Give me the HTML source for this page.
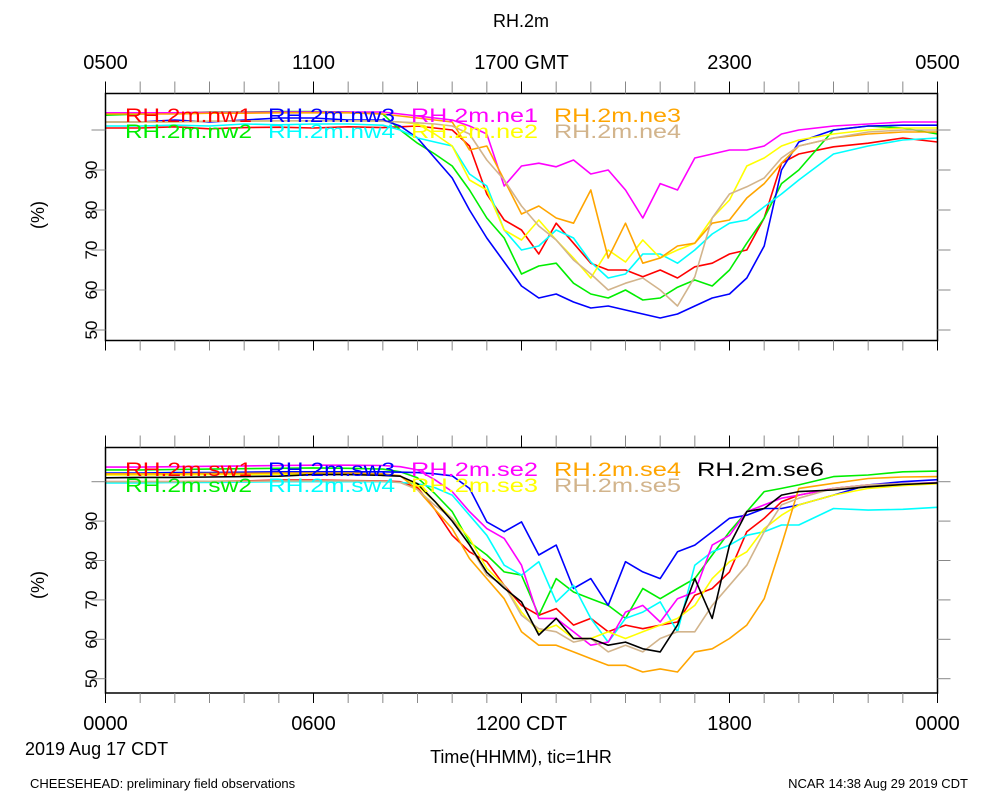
<!DOCTYPE html>
<html><head><meta charset="utf-8">
<style>
html,body{margin:0;padding:0;background:#fff;}
svg{display:block;font-family:"Liberation Sans",Arial,sans-serif;}
</style></head>
<body>
<svg id="chart" width="1000" height="800" viewBox="0 0 1000 800" xmlns="http://www.w3.org/2000/svg">
<rect x="0" y="0" width="1000" height="800" fill="#fff"/>
<text x="521" y="27" font-size="18" text-anchor="middle">RH.2m</text>
<text x="44" y="215" font-size="18" text-anchor="middle" transform="rotate(-90 44 215)">(%)</text>
<text x="44" y="585" font-size="18" text-anchor="middle" transform="rotate(-90 44 585)">(%)</text>
<text x="25" y="755" font-size="18">2019 Aug 17 CDT</text>
<text x="521" y="763" font-size="18" text-anchor="middle">Time(HHMM), tic=1HR</text>
<text x="30" y="788" font-size="13">CHEESEHEAD: preliminary field observations</text>
<text x="968" y="788" font-size="13" text-anchor="end">NCAR 14:38 Aug 29 2019 CDT</text>
<g id="layer"></g>
</svg>
<script>
const times=[0,1,2,3,4,5,6,7,8,8.5,9,9.5,10,10.5,11,11.5,12,12.5,13,13.5,14,14.5,15,15.5,16,16.5,17,17.5,18,18.5,19,19.5,20,21,22,23,24];
const topTickLabels=["0500","1100","1700 GMT","2300","0500"];
const bottomTickLabels=["0000","0600","1200 CDT","1800","0000"];
const yTickValues=[50,60,70,80,90];
const topNames=["RH.2m.nw1","RH.2m.nw2","RH.2m.nw3","RH.2m.nw4","RH.2m.ne1","RH.2m.ne2","RH.2m.ne3","RH.2m.ne4"];
const topColors=["#ff0000","#00ee00","#0000ff","#00ffff","#ff00ff","#ffff00","#ffa500","#d2b48c"];
const nw1=[100.5,100.5,100.8,100.3,100.6,100.7,100.5,100.8,100.6,100.8,101,100.5,100,96,84,77.5,75,69,76.7,71.7,66.7,65,65,63.3,65,63,65.8,66.7,69,70,78,91.7,94,95.8,96.7,98,97];
const nw2=[103.7,104,104.2,104.5,104.5,104.6,104.6,104.5,104,100,96.7,94,91,85,78,73,64,66,66.7,61.7,59,58,60,57.5,58,60.7,62.5,61,65,71.7,78,86.6,90,100,101,100.5,99];
const nw3=[102,102,102.5,102,102.5,103,103,102.5,102.5,101,98,93,88,80,73,67,61,58,59,57,55.5,56,55,54,53,54,56,58,59,63,71,90,97,100,101,101.2,101.2];
const nw4=[101,101,101.2,101,101.5,101.3,101.5,101.5,101.2,100,98,97,96,89,86,75,70,71,75,73,67,63,64,69,69,66.7,70,74,76.7,77.5,80.8,84,87.5,94,96,97.5,98];
const ne1=[104.3,104.3,104.3,104.4,104.4,104.5,104.5,104.5,104.5,104,103.5,103,102.5,101,99,86,91,91.7,90.8,92.5,89,90,85,78,86.6,85,93,94,95,95,96,99,100,101,101.5,102,102];
const ne2=[102,102,102,102.2,102.2,102.3,102.3,102.3,102.2,102,101.5,99,96,87.5,85,75,72.5,77.5,72.5,68,63,70,67,72.5,68,70,71.7,78,82.5,91,93,96,97.5,99,100,100.5,100.5];
const ne3=[104,104,104,104.2,104.2,104.3,104.3,104.3,104,103.5,103,102.5,102,95,96,87.5,79,81,78,76.7,85,68,76.7,66.7,68,71,71.7,76.7,77.5,83,86.6,91.7,96,98,99,99.5,99.5];
const ne4=[102,102,102,102.2,102.2,102.3,102.3,102.3,102.2,102,101.8,101.5,101,99,92.5,87.5,81,76,72.5,67.5,64,60,61.7,63,60,56,63.3,78,84,85.8,88,93,96,98,99.5,100,100];
const topSeries=[nw1,nw2,nw3,nw4,ne1,ne2,ne3,ne4];

const botNames=["RH.2m.sw1","RH.2m.sw2","RH.2m.sw3","RH.2m.sw4","RH.2m.se2","RH.2m.se3","RH.2m.se4","RH.2m.se5","RH.2m.se6"];
const botColors=["#ff0000","#00ee00","#0000ff","#00ffff","#ff00ff","#ffff00","#ffa500","#d2b48c","#000000"];
const sw1=[100,100,100,100.1,100.2,100.4,100.4,100.3,100.2,100,98.5,93,86.4,82.2,79.7,73.7,68.6,66.1,67.8,63.6,65.3,61.9,63.6,62.7,63.6,64.4,71.2,72.9,77.1,87.3,90.7,94.9,96.6,98.3,99.2,99.3,99.5];
const sw2=[103,103,103.1,103.2,103.3,103.4,103.5,103.4,103.2,102.5,101,97,92.4,84.7,81.4,77.1,76.3,66.1,75.4,72,70.3,68.6,65.3,72.9,70.3,72.9,75.4,81.4,87.3,92.4,97.5,98.3,99.2,101.3,101.7,102.5,102.7];
const sw3=[102.2,102.2,102.3,102.3,102.4,102.5,102.5,102.5,102.5,102.4,102.3,102,101.5,98.3,89.8,87.3,89.8,81.4,83.9,72.9,75.4,68.6,79.7,77.1,75.4,82.2,83.9,87.3,90.7,91.5,93.2,93.2,94.1,96.6,99.2,100,100.5];
const sw4=[99.7,99.7,99.8,99.8,99.9,100,100,100,100,99.8,99.5,98.5,96.6,91.5,86.4,78.8,76.3,79.7,69.5,73.7,65.3,59.3,65.3,66.9,69.5,61.9,78.8,82.2,83.9,86.4,87.3,89,89,93.2,92.8,93,93.5];
const se2=[103.7,103.7,103.8,103.9,104,104.1,104.2,104.2,104.1,103.8,103,100.5,97.5,92.4,88.1,85.6,78.8,65.3,65.3,61.9,58.5,59.3,66.9,68.6,64.4,70.3,72,83.9,86.4,92.4,94.1,95.8,96.6,98.3,99.2,99.5,99.8];
const se3=[101.7,101.7,101.7,101.8,101.8,101.9,101.9,101.9,101.8,101.5,99,95,90.7,85.6,78,73.7,66.9,61.9,63.6,60.2,60.2,61.9,60.2,61.9,63.6,65.3,68.6,75.4,79.7,82.2,88.1,91.5,94.1,96.6,98.3,99,99.5];
const se4=[102,102,102,102.1,102.1,102.2,102.2,102.2,102,101.5,98,93,88.1,80.5,75.4,70.3,61.9,58.5,58.5,56.8,55.1,53.4,53.4,51.7,52.5,51.7,56.8,57.6,60.2,63.6,70.3,83.9,98.3,99.6,100.8,101.2,101.3];
const se5=[100,100,100,100.1,100.1,100.2,100.2,100.2,100.1,99.8,98,94,90.7,83.9,76.3,73.7,66.1,62.7,61.9,59.3,60.2,56.8,58.5,56.8,60.2,61.9,61.9,68.6,73.7,78.8,87.3,94.1,95.8,98.3,99.2,99.5,99.7];
const se6=[101,101.1,101.1,101.2,101.3,101.4,101.8,101.8,101.6,101.4,99.5,95,90,84,77,73,69.5,61.1,65.3,60.2,60.2,58.5,59.3,57.6,56.8,63.6,75.4,65.3,83.9,92.4,93.2,96.6,97.5,97.9,98.7,99.3,99.7];
const botSeries=[sw1,sw2,sw3,sw4,se2,se3,se4,se5,se6];

const NS="http://www.w3.org/2000/svg";
const layer=document.getElementById('layer');
const X0=105.5,X1=937.5;
function xScale(h){return X0+(X1-X0)*h/24;}
function mk(tag,attrs){const e=document.createElementNS(NS,tag);for(const k in attrs)e.setAttribute(k,attrs[k]);return e;}

function panel(cfg){
  const g=mk('g',{});
  
  
  layer.appendChild(g);
  const yS=v=>cfg.y100+(100-v)*cfg.ppu;
  const cid=cfg.name+'-clip';
  const cp=mk('clipPath',{id:cid});
  cp.appendChild(mk('rect',{x:X0,y:cfg.top,width:X1-X0,height:cfg.bot-cfg.top}));
  g.appendChild(cp);
  const lines=mk('g',{'clip-path':'url(#'+cid+')'});
  g.appendChild(lines);
  cfg.series.forEach((s,i)=>{
    const d=s.map((v,j)=>(j?'L':'M')+xScale(times[j]).toFixed(1)+','+yS(v).toFixed(1)).join('');
    const p=mk('path',{d:d,fill:'none',stroke:cfg.colors[i],'stroke-width':1.6,'stroke-linejoin':'round'});
    
    
    lines.appendChild(p);
  });
  cfg.names.forEach((n,i)=>{
    const col=Math.floor(i/2),row=i%2;
    let lx=125+143*col,ly=cfg.legY+row*16;
    if(cfg.legendPos&&cfg.legendPos[i]){lx=cfg.legendPos[i][0];ly=cfg.legendPos[i][1];}
    const t=mk('text',{x:lx,y:ly,'font-size':19,fill:cfg.colors[i],textLength:127,lengthAdjust:'spacingAndGlyphs'});
    t.textContent=n;
    
    
    g.appendChild(t);
  });
  const fr=mk('rect',{x:X0,y:cfg.top,width:X1-X0,height:cfg.bot-cfg.top,fill:'none',stroke:'#000','stroke-width':1.5});
  
  
  g.appendChild(fr);
  for(let h=0;h<=24;h++){
    const x=xScale(h);
    const col=h%6===0?'#000':'#888';
    const t1=mk('line',{x1:x,x2:x,y1:cfg.top,y2:cfg.top-12,stroke:col,'stroke-width':1});
    
    
    g.appendChild(t1);
    const t2=mk('line',{x1:x,x2:x,y1:cfg.bot,y2:cfg.bot+10,stroke:col,'stroke-width':1});
    
    
    g.appendChild(t2);
  }
  [50,60,70,80,90,100].forEach(v=>{
    const y=yS(v);
    const a=mk('line',{x1:X0-14,x2:X0,y1:y,y2:y,stroke:'#888','stroke-width':1});
    
    
    g.appendChild(a);
    const b=mk('line',{x1:X1,x2:X1+13,y1:y,y2:y,stroke:'#888','stroke-width':1});
    
    
    g.appendChild(b);
  });
  yTickValues.forEach(v=>{
    const y=yS(v);
    const t=mk('text',{x:97,y:y,'font-size':17,'text-anchor':'middle',transform:'rotate(-90 97 '+y+')'});
    t.textContent=v;
    
    
    g.appendChild(t);
  });
  cfg.xLabels.forEach((l,i)=>{
    const t=mk('text',{x:xScale(i*6),y:cfg.xLabY,'font-size':20,'text-anchor':'middle'});
    t.textContent=l;
    
    
    g.appendChild(t);
  });
}
panel({name:'top-panel',top:93.5,bot:340.5,y100:130,ppu:4,series:topSeries,names:topNames,colors:topColors,legY:122,xLabels:topTickLabels,xLabY:69});
panel({name:'bottom-panel',top:447.5,bot:693,y100:481.7,ppu:3.94,series:botSeries,names:botNames,colors:botColors,legY:476,xLabels:bottomTickLabels,xLabY:730,
  legendPos:[null,null,null,null,null,null,null,null,[697,476]]});
</script>
</body></html>
